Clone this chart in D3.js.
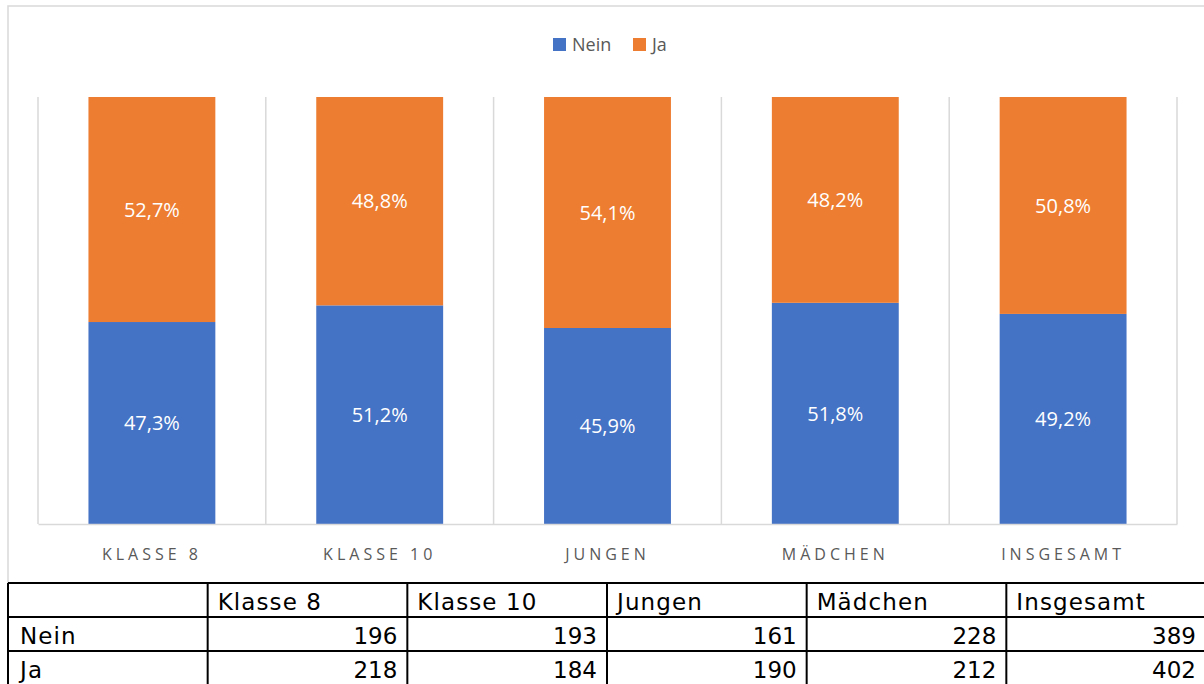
<!DOCTYPE html>
<html lang="de">
<head>
<meta charset="UTF-8">
<title>Nein / Ja</title>
<script src="https://d3js.org/d3.v7.min.js"></script>
<style>
  html, body { margin: 0; padding: 0; background: #fff; }
  svg { display: block; }
</style>
</head>
<body>
<div id="chart"></div>
<script>
const categories = ['Klasse 8', 'Klasse 10', 'Jungen', 'Mädchen', 'Insgesamt'];
const neinPct = [47.3, 51.2, 45.9, 51.8, 49.2];
const jaPct = [52.7, 48.8, 54.1, 48.2, 50.8];
const neinCount = [196, 193, 161, 228, 389];
const jaCount = [218, 184, 190, 212, 402];
const seriesNames = ['Nein', 'Ja'];
const seriesColors = ['#4472C4', '#ED7D31'];

const width = 1204, height = 684;
const plot = {left: 38, right: 1177, top: 97, bottom: 524};

const svg = d3.select('#chart').append('svg')
    .attr('width', width)
    .attr('height', height);

// chart frame
svg.append('rect')
    .attr('x', 8).attr('y', 6)
    .attr('width', 1210).attr('height', 577)
    .attr('fill', '#fff')
    .attr('stroke', '#d9d9d9')
    .attr('stroke-width', 1.5);

const x = d3.scaleBand().domain(categories).range([plot.left, plot.right]);
const y = d3.scaleLinear().domain([0, 100]).range([plot.bottom, plot.top]);

// vertical gridlines at category boundaries
const edges = categories.map(c => x(c)).concat([plot.right]);
svg.append('g').selectAll('line')
    .data(edges)
    .join('line')
    .attr('x1', d => d).attr('x2', d => d)
    .attr('y1', plot.top).attr('y2', plot.bottom)
    .attr('stroke', '#d9d9d9')
    .attr('stroke-width', 1.5);

// stacked bars
const rows = categories.map((c, i) => ({cat: c, nein: neinPct[i], ja: jaPct[i]}));
const stack = d3.stack().keys(['nein', 'ja'])(rows);
const barW = x.bandwidth() * 0.557;

const layers = svg.append('g').selectAll('g')
    .data(stack)
    .join('g')
    .attr('fill', (d, i) => seriesColors[i]);

layers.selectAll('rect')
    .data(d => d)
    .join('rect')
    .attr('x', d => x(d.data.cat) + (x.bandwidth() - barW) / 2)
    .attr('width', barW)
    .attr('y', d => y(d[1]))
    .attr('height', d => y(d[0]) - y(d[1]));

layers.selectAll('text')
    .data(d => d)
    .join('text')
    .attr('x', d => x(d.data.cat) + x.bandwidth() / 2)
    .attr('y', d => (y(d[0]) + y(d[1])) / 2)
    .attr('dy', '0.36em')
    .attr('text-anchor', 'middle')
    .attr('fill', '#fff')
    .style('font-family', 'Open Sans, sans-serif')
    .style('font-size', '20px')
    .text(d => (d[1] - d[0]).toFixed(1).replace('.', ',') + '%');

// x axis
const xAxis = svg.append('g')
    .attr('transform', `translate(0,${plot.bottom})`)
    .call(d3.axisBottom(x).tickSize(0).tickPadding(25).tickFormat(d => d.toUpperCase()));
xAxis.select('.domain').attr('stroke', '#d9d9d9').attr('stroke-width', 1.5);
xAxis.selectAll('text')
    .attr('fill', '#595959')
    .style('font-family', 'Open Sans, sans-serif')
    .style('font-size', '16px')
    .style('letter-spacing', '4px');

// legend
const legend = svg.append('g');
const legendX = [553, 633];
seriesNames.forEach((name, i) => {
    legend.append('rect')
        .attr('x', legendX[i]).attr('y', 38)
        .attr('width', 13).attr('height', 13)
        .attr('fill', seriesColors[i]);
    legend.append('text')
        .attr('x', legendX[i] + 19).attr('y', 51)
        .attr('fill', '#595959')
        .style('font-family', 'Open Sans, sans-serif')
        .style('font-size', '18px')
        .text(name);
});

// data table
const colX = d3.scaleLinear().domain([0, 6]).range([8, 1206]);
const rowY = d3.scaleLinear().domain([0, 3]).range([583, 685]);
const table = svg.append('g');
const tableFont = 'DejaVu Sans, sans-serif';

table.selectAll('line.h')
    .data(d3.range(4))
    .join('line')
    .attr('class', 'h')
    .attr('x1', colX(0)).attr('x2', colX(6))
    .attr('y1', d => rowY(d)).attr('y2', d => rowY(d))
    .attr('stroke', '#000').attr('stroke-width', 2);
table.selectAll('line.v')
    .data(d3.range(7))
    .join('line')
    .attr('class', 'v')
    .attr('x1', d => colX(d)).attr('x2', d => colX(d))
    .attr('y1', rowY(0)).attr('y2', rowY(3))
    .attr('stroke', '#000').attr('stroke-width', 2);

table.selectAll('text.head')
    .data(categories)
    .join('text')
    .attr('class', 'head')
    .attr('x', (d, i) => colX(i + 1) + 10)
    .attr('y', rowY(0) + 27)
    .style('font-family', tableFont)
    .style('font-size', '23px')
    .style('letter-spacing', '1.1px')
    .text(d => d);

const bodyRows = [neinCount, jaCount];
bodyRows.forEach((vals, r) => {
    table.append('text')
        .attr('x', colX(0) + 12)
        .attr('y', rowY(r + 1) + 27)
        .style('font-family', tableFont)
        .style('font-size', '23px')
        .style('letter-spacing', '1.1px')
        .text(seriesNames[r]);
    table.selectAll('text.v' + r)
        .data(vals)
        .join('text')
        .attr('class', 'v' + r)
        .attr('x', (d, i) => colX(i + 2) - 10)
        .attr('y', rowY(r + 1) + 27)
        .attr('text-anchor', 'end')
        .style('font-family', tableFont)
        .style('font-size', '23px')
        .text(d => d);
});
</script>
</body>
</html>
